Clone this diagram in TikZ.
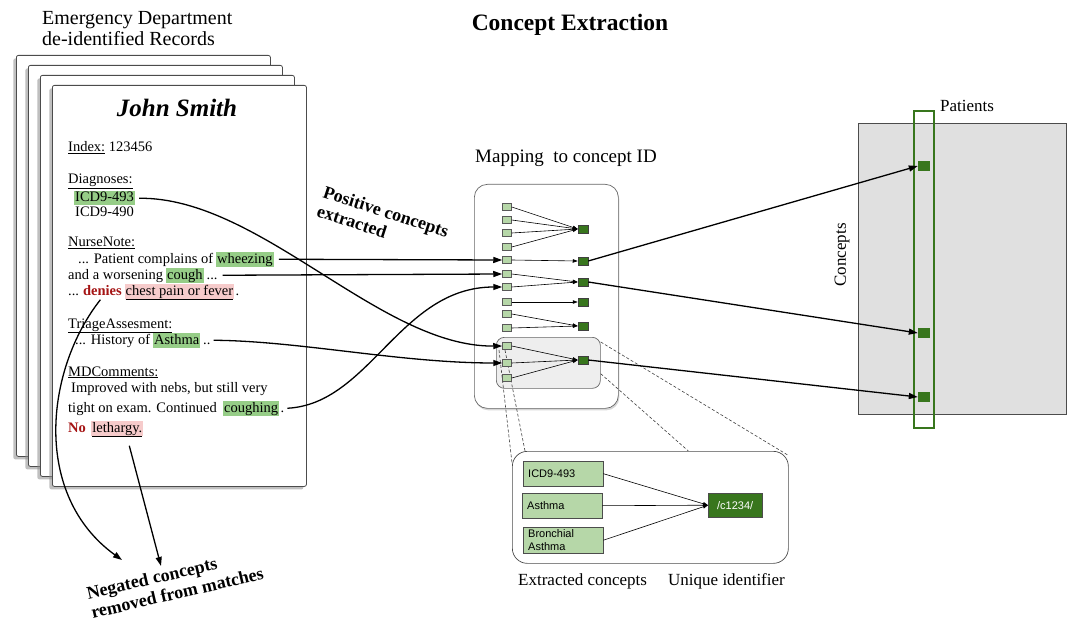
\documentclass[tikz,border=0pt]{standalone}
\usepackage{fontspec}
\setmainfont{Liberation Serif}
\newfontfamily\sansf{Liberation Sans}
\usetikzlibrary{arrows.meta,shadows}
\definecolor{hlgreen}{RGB}{150,205,135}
\definecolor{hlpink}{RGB}{246,203,203}
\definecolor{negred}{RGB}{165,20,20}
\definecolor{lgsq}{RGB}{182,215,168}
\definecolor{dgsq}{RGB}{56,118,29}
\definecolor{matgray}{RGB}{224,224,224}
\definecolor{innergray}{RGB}{238,238,238}
\newcommand\recfont{\fontsize{14.5}{17}\selectfont}
\tikzset{
  page/.style={draw=black!70, fill=white, rounded corners=2pt, line width=0.8pt, anchor=north west,
    minimum width=254pt, minimum height=401pt, inner sep=0pt,
    drop shadow={shadow xshift=-3pt, shadow yshift=-3pt, fill=black!45, opacity=0.55}},
  rec/.style={font=\recfont, inner sep=0pt, anchor=base west, text height=11pt, text depth=3.5pt},
  hl/.style={rec, fill=hlgreen, inner xsep=1pt},
  hlp/.style={hl, fill=hlpink},
  negw/.style={rec, font=\recfont\bfseries, text=negred},
  lsq/.style={draw=black!65, fill=lgsq, minimum width=9pt, minimum height=7pt, inner sep=0pt, line width=0.5pt},
  dsq/.style={draw=black!75, fill=dgsq, minimum width=10pt, minimum height=8pt, inner sep=0pt, line width=0.5pt},
  psq/.style={fill=dgsq, minimum width=12pt, minimum height=10pt, inner sep=0pt},
  bigarrow/.style={line width=1.3pt, -{Triangle[length=9pt,width=6pt]}},
  smallarrow/.style={line width=0.6pt, -{Triangle[length=5pt,width=3.5pt]}},
  dashln/.style={line width=0.6pt, black!75, dash pattern=on 3pt off 2pt},
  cbox/.style={draw=black!70, fill=lgsq, anchor=north west, minimum width=80pt, text width=70pt,
    inner xsep=5pt, align=left, font=\sansf\fontsize{11}{12.5}\selectfont},
  lab/.style={font=\fontsize{17}{20}\selectfont, inner sep=0pt},
  boldlab/.style={font=\fontsize{18}{20}\selectfont\bfseries, inner sep=0pt, align=left},
}
\begin{document}
\begin{tikzpicture}[x=1pt,y=-1pt]
\useasboundingbox (0,0) rectangle (1072,623);

% titles
\node[font=\fontsize{23.5}{26}\selectfont\bfseries, anchor=base, inner sep=0pt] (title) at (570,31) {Concept Extraction};
\node[font=\fontsize{20}{22}\selectfont, anchor=base west, inner sep=0pt] (hdr1) at (42,25) {Emergency Department};
\node[font=\fontsize{20}{22}\selectfont, anchor=base west, inner sep=0pt] (hdr2) at (42,46) {de-identified Records};

% pages
\node[page] (pg1) at (16,55) {};
\node[page] (pg2) at (28,65) {};
\node[page] (pg3) at (40,75) {};
\node[page] (pg4) at (52,85) {};

\node[font=\fontsize{25}{28}\selectfont\bfseries\itshape, anchor=base, inner sep=0pt] (name) at (177,117) {John Smith};

% record text
\node[rec] (idx) at (68,152) {\underline{Index:} 123456};
\node[rec] (diag) at (68,184) {\underline{Diagnoses:}};
\node[hl] (icd) at (74,202) {ICD9-493};
\node[rec] (icdb) at (75,217) {ICD9-490};
\node[rec] (nurse) at (68,247) {\underline{NurseNote:}};
\node[rec] (l6) at (78,263) {... Patient complains of};
\node[hl] (wheez) at ([xshift=2.6pt]l6.base east) {wheezing};
\node[rec] (l7) at (68,279) {and a worsening};
\node[hl] (cough) at ([xshift=2.6pt]l7.base east) {cough};
\node[rec] (l7b) at ([xshift=2.6pt]cough.base east) {...};
\node[rec] (l8) at (68,295) {...};
\node[negw] (denies) at ([xshift=3.6pt]l8.base east) {denies};
\node[hlp] (chest) at ([xshift=2.6pt]denies.base east) {\underline{chest pain or fever}};
\node[rec] (l8b) at ([xshift=1pt]chest.base east) {.};
\node[rec] (triage) at (68,328) {\underline{TriageAssesment:}};
\node[rec] (l10) at (75,344) {... History of};
\node[hl] (asth) at ([xshift=2.6pt]l10.base east) {Asthma};
\node[rec] (l10b) at ([xshift=2.6pt]asth.base east) {..};
\node[rec] (md) at (68,376) {\underline{MDComments:}};
\node[rec] (l12) at (71,392) {Improved with nebs, but still very};
\node[rec] (l13) at (68,412) {tight on exam. Continued};
\node[hl] (cghg) at ([xshift=6pt]l13.base east) {coughing};
\node[rec] (l13b) at ([xshift=1pt]cghg.base east) {.};
\node[negw] (no) at (68,432) {No};
\node[hlp] (leth) at ([xshift=5pt]no.base east) {\underline{lethargy.}};

% labels
\node[boldlab, rotate=-18] (postxt) at (383,221) {Positive concepts\\extracted};
\node[boldlab, rotate=13] (negtxt) at (175,583) {Negated concepts\\removed from matches};
\node[lab, font=\fontsize{19}{21}\selectfont, anchor=base west] (maplab) at (475,163) {Mapping\ \ to concept ID};

% mapping box
\node[draw=black!60, fill=white, rounded corners=13pt, anchor=north west, minimum width=144pt, minimum height=224pt, line width=0.7pt,
  drop shadow={shadow xshift=1pt, shadow yshift=-2pt, fill=black!40, opacity=0.4}] (mapbox) at (474,184) {};
\node[draw=black!60, fill=innergray, rounded corners=8pt, anchor=north west, minimum width=104pt, minimum height=51pt, line width=0.7pt] (inner) at (496,337) {};

% detail box and dashed zoom lines
\node[draw=black!70, fill=white, rounded corners=15pt, anchor=north west, minimum width=276pt, minimum height=112pt, line width=0.7pt] (detail) at (512,451) {};
\draw[dashln] ([xshift=3pt,yshift=-13pt]inner.north west) -- ([yshift=-12pt]detail.north west);
\draw[dashln] ([xshift=9pt,yshift=-13pt]inner.north west) -- ([xshift=13pt]detail.north west);
\draw[dashln] ([yshift=-5pt]inner.north east) -- ([xshift=-1pt,yshift=-4pt]detail.north east);
\draw[dashln] ([yshift=15pt]inner.south east) -- ([xshift=38pt]detail.north);

% squares
\foreach \i/\y in {1/207,2/220,3/233,4/247,5/260,6/274,7/287,8/302,9/314,10/328,11/346,12/363,13/378}
  \node[lsq] (s\i) at (507,\y) {};
\foreach \i/\y in {1/229,2/261,3/282,4/302,5/326,6/360}
  \node[dsq] (d\i) at (583,\y) {};
\foreach \a/\b in {1/1,2/1,3/1,4/1,5/2,6/3,7/3,8/4,9/5,10/5,11/6,12/6,13/6}
  \draw[smallarrow] (s\a.east) -- (d\b.west);

% matrix
\node[draw=black!70, fill=matgray, line width=1pt, anchor=north west, minimum width=208pt, minimum height=291pt] (mat) at (858,123) {};
\node[draw=dgsq, line width=1.6pt, anchor=north west, minimum width=20pt, minimum height=317pt] (col) at (913,110) {};
\node[psq] (p1) at (924,166) {};
\node[psq] (p2) at (924,333) {};
\node[psq] (p3) at (924,397) {};
\node[lab, anchor=base west] (pat) at (940,112) {Patients};
\node[lab, rotate=90] (conc) at (842,255) {Concepts};

% detail contents
\node[cbox, minimum height=25pt] (c1) at (523,461) {ICD9-493};
\node[cbox, minimum height=25pt] (c2) at (522,493) {Asthma};
\node[cbox, minimum height=26pt, inner ysep=1pt] (c3) at (523,527) {Bronchial\\Asthma};
\node[draw=black!70, fill=dgsq, text=white, anchor=north west, minimum width=54pt, minimum height=24pt, font=\sansf\fontsize{11}{12}\selectfont] (cid) at (708,493) {/c1234/};
\draw[smallarrow] (c1.east) -- (cid.west);
\draw[smallarrow] (c2.east) -- (cid.west);
\draw[smallarrow] (c3.east) -- (cid.west);
\node[lab, anchor=base west] (extl) at (518,585) {Extracted concepts};
\node[lab, anchor=base west] (uniq) at (668,585) {Unique identifier};

% incoming arrows
\draw[bigarrow] ([xshift=4pt]icd.east) .. controls (260,197) and (380,347) .. (s11.west);
\draw[bigarrow] ([xshift=5pt]wheez.east) -- (s5.west);
\draw[bigarrow] ([xshift=5pt]l7b.east) -- (s6.west);
\draw[bigarrow] ([xshift=3pt]l10b.east) .. controls (300,341) and (400,363) .. (s12.west);
\draw[bigarrow] ([xshift=3pt]l13b.east) .. controls (370,404) and (400,287) .. (s7.west);

% negated arrows
\coordinate (neg1) at (122,560);
\coordinate (neg2) at (161,566);
\draw[bigarrow] ([xshift=-2pt,yshift=-1pt]denies.south) .. controls (45,370) and (32,495) .. (neg1);
\draw[bigarrow] ([xshift=12pt,yshift=-10pt]leth.south) -- (neg2);

% outgoing arrows
\draw[bigarrow] (d2.east) -- (p1.west);
\draw[bigarrow] (d3.east) -- (p2.west);
\draw[bigarrow] (d6.east) -- (p3.west);
\end{tikzpicture}
\end{document}
